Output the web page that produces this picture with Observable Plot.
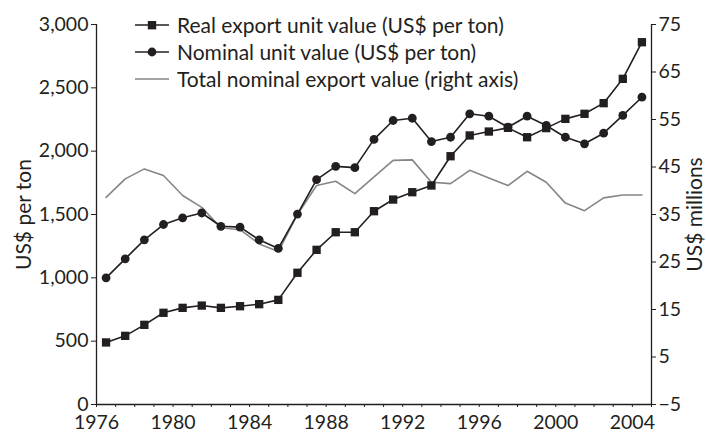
<!DOCTYPE html>
<html><head><meta charset="utf-8">
<script src="https://cdn.jsdelivr.net/npm/d3@7"></script>
<script src="https://cdn.jsdelivr.net/npm/@observablehq/plot@0.6"></script>
<style>
body{margin:0;background:#fff;}
#wrap{position:relative;width:706px;height:433px;font-family:Lato, sans-serif;color:#231f20}
#legend{position:absolute;left:135px;top:11px;font-size:21px;line-height:27px;}
.row{display:flex;align-items:center;height:27px;white-space:nowrap;}
.row svg{margin-right:8px;display:block}
</style></head><body><div id="wrap"><div id="legend"></div></div>
<script>
const years = [1976,1977,1978,1979,1980,1981,1982,1983,1984,1985,1986,1987,1988,1989,1990,1991,1992,1993,1994,1995,1996,1997,1998,1999,2000,2001,2002,2003,2004];
const realUnitValue = [490,542,629,724,763,781,763,776,792,826,1040,1221,1360,1360,1526,1618,1676,1729,1960,2124,2155,2184,2110,2182,2255,2295,2379,2571,2860];
const nominalUnitValue = [1000,1150,1300,1421,1474,1512,1407,1400,1300,1232,1503,1775,1880,1870,2093,2242,2260,2076,2110,2295,2276,2189,2276,2203,2110,2058,2142,2282,2426];
const totalExportValue = [38.6,42.5,44.6,43.2,39.0,36.5,32.2,31.8,28.8,27.2,35.0,41.1,42.0,39.4,42.9,46.4,46.5,41.8,41.5,44.3,42.7,41.1,44.1,41.8,37.4,35.8,38.5,39.1,39.1];
const xTickYears = [1976,1977,1978,1979,1980,1981,1982,1983,1984,1985,1986,1987,1988,1989,1990,1991,1992,1993,1994,1995,1996,1997,1998,1999,2000,2001,2002,2003,2004,2005];
const xLabelYears = [1976,1980,1984,1988,1992,1996,2000,2004];
const leftTicks = [0,500,1000,1500,2000,2500,3000];
const rightTicks = [-5,5,15,25,35,45,55,65,75];
const legendLabels = ["Real export unit value (US$ per ton)","Nominal unit value (US$ per ton)","Total nominal export value (right axis)"];

const ink = "#231f20";
const grey = "#868686";
const K = 3000 / 80; // right axis [-5,75] mapped onto left [0,3000]
const toLeft = v => (v + 5) * K;
const fmtRight = d => { const v = Math.round(d / K - 5); return v < 0 ? "\u2212" + Math.abs(v) : String(v); };

const data = years.map((y, i) => ({year: y, x: y + 0.5, real: realUnitValue[i], nominal: nominalUnitValue[i], total: toLeft(totalExportValue[i])}));

const chart = Plot.plot({
  width: 706, height: 433,
  marginLeft: 96, marginRight: 55, marginTop: 24, marginBottom: 29,
  style: {fontFamily: "Lato, sans-serif", fontSize: "20px", color: ink, background: "#fff"},
  x: {domain: [1976, 2005]},
  y: {domain: [0, 3000]},
  marks: [
    Plot.axisX(xTickYears, {tickSize: 3, tickPadding: 8, tickFormat: d => xLabelYears.includes(d) ? String(d) : "", label: null, fontSize: 19.5}),
    Plot.axisY(leftTicks, {anchor: "left", tickSize: 5, tickPadding: 3, tickFormat: d3.format(","), label: null, fontSize: 19.5}),
    Plot.axisY({anchor: "left", ticks: [], label: "US$ per ton", labelAnchor: "center", labelArrow: "none", labelOffset: 80, fontSize: 21}),
    Plot.axisY(rightTicks.map(toLeft), {anchor: "right", tickSize: 4, tickPadding: 3, tickFormat: fmtRight, label: null, fontSize: 19.5}),
    Plot.axisY({anchor: "right", ticks: [], label: "US$ millions", labelAnchor: "center", labelArrow: "none", labelOffset: 50, fontSize: 21}),
    Plot.ruleX([1976, 2005], {stroke: ink, strokeWidth: 1.3}),
    Plot.ruleY([0], {stroke: ink, strokeWidth: 1.3}),
    Plot.line(data, {x: "x", y: "total", stroke: grey, strokeWidth: 1.6}),
    Plot.line(data, {x: "x", y: "nominal", stroke: ink, strokeWidth: 1.6}),
    Plot.dot(data, {x: "x", y: "nominal", r: 4.4, fill: ink, stroke: "none", symbol: "circle"}),
    Plot.line(data, {x: "x", y: "real", stroke: ink, strokeWidth: 1.6}),
    Plot.dot(data, {x: "x", y: "real", r: 4.7, fill: ink, stroke: "none", symbol: "square"})
  ]
});
const wrap = document.getElementById("wrap");
wrap.insertBefore(chart, wrap.firstChild);

// legend
const legend = document.getElementById("legend");
const swatches = [
  `<svg width="34" height="12"><line x1="0" y1="6" x2="34" y2="6" stroke="${ink}" stroke-width="1.6"/><rect x="12.8" y="2" width="8.4" height="8.4" fill="${ink}"/></svg>`,
  `<svg width="34" height="12"><line x1="0" y1="6" x2="34" y2="6" stroke="${ink}" stroke-width="1.6"/><circle cx="17" cy="6" r="4.4" fill="${ink}"/></svg>`,
  `<svg width="34" height="12"><line x1="0" y1="6" x2="34" y2="6" stroke="${grey}" stroke-width="1.6"/></svg>`
];
legendLabels.forEach((t, i) => {
  const row = document.createElement("div");
  row.className = "row";
  row.innerHTML = swatches[i] + `<span>${t}</span>`;
  legend.appendChild(row);
});
</script></body></html>
